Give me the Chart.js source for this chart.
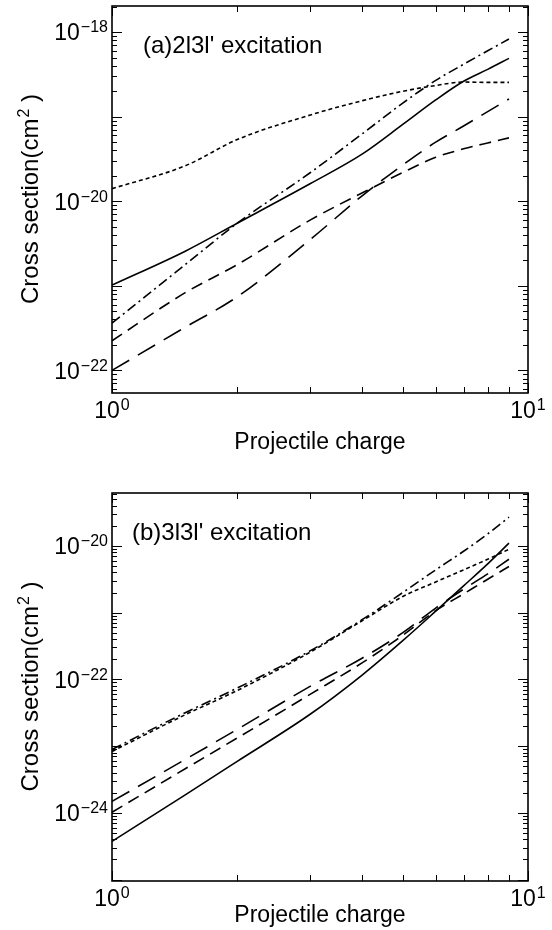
<!DOCTYPE html>
<html>
<head>
<meta charset="utf-8">
<script src="https://cdn.jsdelivr.net/npm/chart.js@4.4.1/dist/chart.umd.min.js"></script>
<style>
  html, body { margin: 0; padding: 0; background: #fff; }
  .panel { width: 552px; height: 465px; }
</style>
</head>
<body>
<div class="panel"><canvas id="chartA" width="552" height="465"></canvas></div>
<div class="panel"><canvas id="chartB" width="552" height="465"></canvas></div>
<script>
/********** DATA **********/
const charge = [1, 1.5, 2, 3, 4, 5, 6, 7, 8, 9];

// (a) 2l3l' excitation, cm^2
const a_solid    = [1.02e-21, 2.57e-21, 5.5e-21, 1.62e-20, 3.63e-20, 8.1e-20, 1.58e-19, 2.63e-19, 3.63e-19, 4.9e-19];
const a_dotted   = [1.41e-20, 2.63e-20, 5.37e-20, 1.05e-19, 1.55e-19, 2.0e-19, 2.34e-19, 2.57e-19, 2.55e-19, 2.55e-19];
const a_dashdot  = [3.63e-22, 1.78e-21, 5.5e-21, 2.19e-20, 6.31e-20, 1.45e-19, 2.69e-19, 4.17e-19, 6.03e-19, 8.3e-19];
const a_dashed   = [2.24e-22, 8.3e-22, 1.78e-21, 6.03e-21, 1.26e-20, 2.19e-20, 3.31e-20, 4.17e-20, 4.9e-20, 5.62e-20];
const a_longdash = [1.0e-22, 3.24e-22, 7.41e-22, 3.55e-21, 1.17e-20, 2.69e-20, 5.0e-20, 7.76e-20, 1.15e-19, 1.62e-19];

// (b) 3l3l' excitation, cm^2
const b_solid    = [3.72e-25, 1.86e-24, 5.9e-24, 3.02e-23, 1.17e-22, 3.8e-22, 1.05e-21, 2.51e-21, 5.37e-21, 1.1e-20];
const b_dotted   = [8.3e-24, 2.95e-23, 6.8e-23, 2.57e-22, 7.6e-22, 1.74e-21, 2.88e-21, 4.37e-21, 6.3e-21, 8.9e-21];
const b_dashdot  = [8.9e-24, 3.16e-23, 7.4e-23, 2.69e-22, 7.9e-22, 2.0e-21, 4.37e-21, 8.3e-21, 1.51e-20, 2.69e-20];
const b_dashed   = [1.02e-24, 4.57e-24, 1.32e-23, 6.0e-23, 1.78e-22, 4.57e-22, 1.07e-21, 1.91e-21, 3.16e-21, 4.9e-21];
const b_longdash = [1.48e-24, 6.3e-24, 1.78e-23, 7.9e-23, 2.09e-22, 5.0e-22, 1.17e-21, 2.24e-21, 3.8e-21, 6.3e-21];

const xTicks  = [1, 10];
const yTicksA = [1e-22, 1e-20, 1e-18];
const yTicksB = [1e-24, 1e-22, 1e-20];

/********** STYLE **********/
const FONT = "'Liberation Sans', Arial, Helvetica, sans-serif";
const BIG = '23px ' + FONT;
const SMALL = '16px ' + FONT;
const CAP = 23 * 0.716;
const DASH = {
  solid: [],
  dotted: [4, 3],
  dashdot: [10, 4, 2, 4],
  dashed: [12, 7],
  longdash: [20, 10]
};

function series(vals, dash) {
  return {
    data: charge.map((q, i) => ({ x: q, y: vals[i] })),
    borderColor: '#000',
    borderWidth: 1.6,
    borderDash: dash,
    pointRadius: 0,
    fill: false,
    cubicInterpolationMode: 'monotone'
  };
}

// log steps 1..9 x 10^n inside a range, for the inward tick marks
function logSteps(min, max) {
  const out = [];
  for (let e = Math.floor(Math.log10(min)); e <= Math.ceil(Math.log10(max)); e++) {
    for (let m = 1; m <= 9; m++) {
      const v = m * Math.pow(10, e);
      if (v >= min * 0.9999 && v <= max * 1.0001) out.push({ v, decade: m === 1 });
    }
  }
  return out;
}

// "10" with a raised exponent; baseline = baseline of the "10"
function drawPow(ctx, v, x, baseline, align) {
  const exp = String(Math.round(Math.log10(v))).replace('-', '−');
  ctx.font = BIG;
  const wBase = ctx.measureText('10').width;
  ctx.font = SMALL;
  const wExp = ctx.measureText(exp).width;
  const total = wBase + 1 + wExp;
  const x0 = align === 'right' ? x - total : x - total / 2;
  ctx.textAlign = 'left';
  ctx.textBaseline = 'alphabetic';
  ctx.font = BIG;
  ctx.fillText('10', x0, baseline);
  ctx.font = SMALL;
  ctx.fillText(exp, x0 + wBase + 1, baseline - 8);
}

/********** PLUGINS **********/
const frameTicks = {
  id: 'frameTicks',
  afterDraw(chart) {
    const { ctx, chartArea: a, scales: { x, y } } = chart;
    ctx.save();
    ctx.strokeStyle = '#000';
    ctx.lineWidth = 1;
    ctx.beginPath();
    logSteps(x.min, x.max).forEach(t => {
      const px = Math.round(x.getPixelForValue(t.v)) + 0.5;
      ctx.moveTo(px, a.bottom); ctx.lineTo(px, a.bottom - (t.decade ? 10 : 6));
      ctx.moveTo(px, a.top); ctx.lineTo(px, a.top + (t.decade ? 10 : 6));
    });
    logSteps(y.min, y.max).forEach(t => {
      const py = Math.round(y.getPixelForValue(t.v)) + 0.5;
      const len = t.decade ? 10 : 5;
      ctx.moveTo(a.left, py); ctx.lineTo(a.left + len, py);
      ctx.moveTo(a.right, py); ctx.lineTo(a.right - len, py);
    });
    ctx.stroke();
    ctx.lineWidth = 1.6;
    ctx.strokeRect(a.left, a.top, a.right - a.left, a.bottom - a.top);

    // tick labels, 10^n
    ctx.fillStyle = '#000';
    x.ticks.forEach(t => drawPow(ctx, t.value, x.getPixelForValue(t.value), a.bottom + 9 + CAP, 'center'));
    y.ticks.forEach(t => drawPow(ctx, t.value, a.left - 4, y.getPixelForValue(t.value) + CAP / 2, 'right'));
    ctx.restore();
  }
};

const panelText = {
  id: 'panelText',
  afterDraw(chart, args, opts) {
    const { ctx, chartArea: a } = chart;
    ctx.save();
    ctx.fillStyle = '#000';
    ctx.textBaseline = 'alphabetic';
    ctx.font = '24px ' + FONT;
    ctx.fillText(opts.text, a.left + opts.dx, a.top + opts.dy);

    // y title with superscript
    ctx.translate(38, (a.top + a.bottom) / 2);
    ctx.rotate(-Math.PI / 2);
    const p1 = 'Cross section(cm', p2 = '2', p3 = ' )';
    ctx.font = '24px ' + FONT;
    const w1 = ctx.measureText(p1).width, w3 = ctx.measureText(p3).width;
    ctx.font = '16px ' + FONT;
    const w2 = ctx.measureText(p2).width;
    let cx = -(w1 + w2 + w3) / 2;
    ctx.font = '24px ' + FONT;
    ctx.fillText(p1, cx, 0);
    cx += w1;
    ctx.font = '16px ' + FONT;
    ctx.fillText(p2, cx + 1, -9);
    cx += w2 + 1;
    ctx.font = '24px ' + FONT;
    ctx.fillText(p3, cx, 0);
    ctx.restore();
  }
};

/********** CHARTS **********/
function makeChart(id, cfg) {
  return new Chart(document.getElementById(id), {
    type: 'line',
    data: {
      datasets: [
        series(cfg.solid, DASH.solid),
        series(cfg.dotted, DASH.dotted),
        series(cfg.dashdot, DASH.dashdot),
        series(cfg.dashed, DASH.dashed),
        series(cfg.longdash, DASH.longdash)
      ]
    },
    options: {
      responsive: false,
      animation: false,
      devicePixelRatio: 1,
      layout: { padding: { top: cfg.padTop, right: 24, bottom: 0, left: 0 } },
      plugins: {
        legend: { display: false },
        tooltip: { enabled: false },
        panelText: { text: cfg.label, dx: cfg.labelDx, dy: 47 }
      },
      scales: {
        x: {
          type: 'logarithmic',
          min: 1,
          max: 10,
          grid: { display: false, drawTicks: false },
          border: { display: false },
          afterBuildTicks: s => { s.ticks = xTicks.map(v => ({ value: v })); },
          afterFit: s => { s.height = cfg.xHeight; },
          ticks: { display: false },
          title: {
            display: true,
            text: 'Projectile charge',
            color: '#000',
            font: { family: FONT, size: 23 },
            padding: { top: 0, bottom: cfg.xTitlePad }
          }
        },
        y: {
          type: 'logarithmic',
          min: cfg.yMin,
          max: cfg.yMax,
          grid: { display: false, drawTicks: false },
          border: { display: false },
          afterBuildTicks: s => { s.ticks = cfg.yTicks.map(v => ({ value: v })); },
          afterFit: s => { s.width = 112; },
          ticks: { display: false },
          title: { display: false }
        }
      }
    },
    plugins: [frameTicks, panelText]
  });
}

makeChart('chartA', {
  solid: a_solid, dotted: a_dotted, dashdot: a_dashdot, dashed: a_dashed, longdash: a_longdash,
  yMin: 5.4e-23, yMax: 2.04e-18, yTicks: yTicksA,
  padTop: 6, xHeight: 72, xTitlePad: 9,
  label: "(a)2l3l' excitation", labelDx: 31
});

makeChart('chartB', {
  solid: b_solid, dotted: b_dotted, dashdot: b_dashdot, dashed: b_dashed, longdash: b_longdash,
  yMin: 9.5e-26, yMax: 6.2e-20, yTicks: yTicksB,
  padTop: 28, xHeight: 49, xTitlePad: 1,
  label: "(b)3l3l' excitation", labelDx: 20
});
</script>
</body>
</html>
